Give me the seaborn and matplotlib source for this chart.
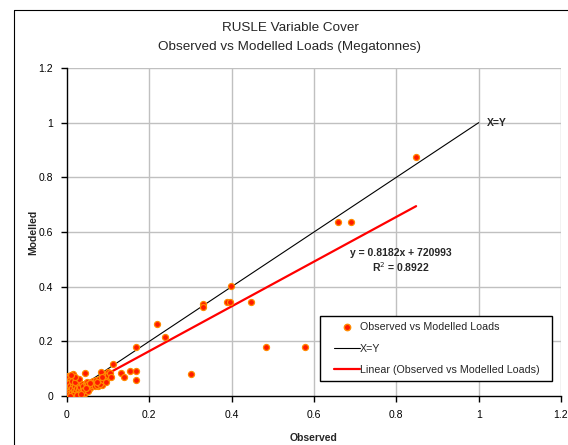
import matplotlib
matplotlib.use("Agg")
import matplotlib.pyplot as plt
import seaborn as sns
import pandas as pd
from matplotlib.lines import Line2D
from matplotlib.legend_handler import HandlerLine2D

# ---- data (Megatonnes) ----
observed = [0.848, 0.659, 0.690, 0.399, 0.388, 0.396, 0.447, 0.484, 0.578, 0.331,
            0.330, 0.218, 0.237, 0.168, 0.301, 0.130, 0.139, 0.154, 0.168, 0.168,
            0.111, 0.083, 0.099, 0.103, 0.044, 0.014, 0.003, 0.044, 0.076, 0.066,
            0.084,
            0.000, 0.001, 0.002, 0.001, 0.003, 0.002, 0.001, 0.004, 0.002, 0.006,
            0.008, 0.005, 0.007, 0.009, 0.004, 0.006, 0.010, 0.012, 0.013, 0.015,
            0.011, 0.016, 0.018, 0.020, 0.022, 0.024, 0.026, 0.028, 0.030, 0.032,
            0.034, 0.036, 0.038, 0.040, 0.042, 0.046, 0.048, 0.050, 0.052, 0.055,
            0.058, 0.060, 0.062, 0.064, 0.068, 0.070, 0.074, 0.078, 0.080, 0.088,
            0.092, 0.095, 0.100, 0.105, 0.108, 0.015, 0.025, 0.035, 0.008, 0.019,
            0.030, 0.050, 0.045, 0.056, 0.085, 0.072, 0.020, 0.010]
modelled = [0.875, 0.637, 0.637, 0.404, 0.345, 0.345, 0.345, 0.178, 0.178, 0.337,
            0.325, 0.262, 0.217, 0.178, 0.082, 0.083, 0.068, 0.091, 0.091, 0.059,
            0.117, 0.089, 0.089, 0.068, 0.085, 0.080, 0.073, 0.012, 0.037, 0.041,
            0.040,
            0.005, 0.012, 0.020, 0.028, 0.035, 0.043, 0.050, 0.057, 0.064, 0.070,
            0.060, 0.048, 0.038, 0.025, 0.015, 0.008, 0.004, 0.015, 0.030, 0.045,
            0.055, 0.022, 0.010, 0.035, 0.018, 0.028, 0.012, 0.040, 0.024, 0.033,
            0.015, 0.045, 0.030, 0.038, 0.022, 0.048, 0.052, 0.035, 0.043, 0.030,
            0.050, 0.040, 0.055, 0.046, 0.038, 0.058, 0.040, 0.062, 0.045, 0.060,
            0.072, 0.050, 0.078, 0.085, 0.071, 0.002, 0.005, 0.008, 0.001, 0.050,
            0.062, 0.020, 0.030, 0.048, 0.068, 0.050, 0.070, 0.078]

trend_slope = 0.8182
trend_intercept = 0.000721
r_squared = 0.8922
identity_x = [0.0, 1.0]
axis_ticks = [0, 0.2, 0.4, 0.6, 0.8, 1, 1.2]
tick_labels = ["0", "0.2", "0.4", "0.6", "0.8", "1", "1.2"]

df = pd.DataFrame({"Observed": observed, "Modelled": modelled})

sns.set_style("white")
plt.rcParams['font.family'] = ['Liberation Sans', 'DejaVu Sans']

fig = plt.figure(figsize=(5.68, 4.45), dpi=100)
ax = fig.add_axes([67/568, 1-396/445, 494/568, 328/445])

# gridlines
for t in axis_ticks[1:]:
    ax.axhline(t, color="#c0c0c0", lw=1, zorder=0)
    ax.axvline(t, color="#c0c0c0", lw=1, zorder=0)

sns.scatterplot(data=df, x="Observed", y="Modelled", ax=ax, s=19,
                color="#ff1a00", edgecolor="#ff8a00", linewidth=0.9,
                zorder=3, legend=False)

ax.plot(identity_x, identity_x, color="black", lw=0.8, zorder=2)
xmax = max(observed)
ax.plot([0, xmax], [trend_intercept, trend_slope * xmax + trend_intercept],
        color="#ff0000", lw=1.6, zorder=2)

ax.set_xlim(0, 1.2)
ax.set_ylim(0, 1.2)
ax.set_xticks(axis_ticks)
ax.set_xticklabels(tick_labels)
ax.set_yticks(axis_ticks)
ax.set_yticklabels(tick_labels)
ax.tick_params(axis="both", direction="out", length=4, width=1, color="black",
               labelsize=7.5, labelcolor="black", pad=6, bottom=True, left=True)
for s in ["top", "right"]:
    ax.spines[s].set_visible(False)
for s in ["left", "bottom"]:
    ax.spines[s].set_color("black")
    ax.spines[s].set_linewidth(1)

ax.set_xlabel("Observed", fontsize=7.5, fontweight="bold")
ax.set_ylabel("Modelled", fontsize=7.5, fontweight="bold")
ax.xaxis.set_label_coords(0.5, (396 - 433) / 328)
ax.yaxis.set_label_coords((38 - 67) / 494, 0.5)

ax.text(1.02, 1.0, "X=Y", fontsize=7.5, fontweight="bold", va="center", ha="left")
ax.text(0.81, 0.523, f"y = {trend_slope}x + 720993", fontsize=7.5,
        fontweight="bold", ha="center", va="center")
ax.text(0.81, 0.47, f"R$^{{2}}$ = {r_squared}", fontsize=7.5,
        fontweight="bold", ha="center", va="center")


class ShiftedHandler(HandlerLine2D):
    shift = 5.8  # points

    def create_artists(self, legend, orig_handle, xdescent, ydescent, width,
                       height, fontsize, trans):
        return super().create_artists(legend, orig_handle,
                                      xdescent - self.shift, ydescent,
                                      width - self.shift, height, fontsize, trans)


handles = [
    Line2D([], [], marker="o", ls="none", markersize=4.6,
           markerfacecolor="#ff1a00", markeredgecolor="#ff8a00"),
    Line2D([], [], color="black", lw=0.8),
    Line2D([], [], color="#ff0000", lw=1.6),
]
labels = ["Observed vs Modelled Loads", "X=Y", "Linear (Observed vs Modelled Loads)"]
leg = ax.legend(handles, labels, loc="lower left",
                bbox_to_anchor=(0.512, 0.046, 0.47, 0.2), mode="expand",
                fontsize=7.7, frameon=True, fancybox=False, framealpha=1,
                edgecolor="black", labelspacing=1.07, handlelength=3.18,
                handletextpad=0.0, borderpad=0.54, borderaxespad=0,
                handler_map={Line2D: ShiftedHandler()})
leg.get_frame().set_linewidth(1)

fig.text(290/568, 1-28/445, "RUSLE Variable Cover", ha="center", va="center",
         fontsize=9.7)
fig.text(290/568, 1-47/445, "Observed vs Modelled Loads (Megatonnes)",
         ha="center", va="center", fontsize=9.7)

# outer chart border (left and top visible)
fig.add_artist(Line2D([13.5/568, 13.5/568], [0, 1-9.5/445], color="black", lw=0.8,
                      transform=fig.transFigure))
fig.add_artist(Line2D([13.5/568, 1], [1-9.5/445, 1-9.5/445], color="black", lw=0.8,
                      transform=fig.transFigure))

fig.savefig("out.png", dpi=100)
